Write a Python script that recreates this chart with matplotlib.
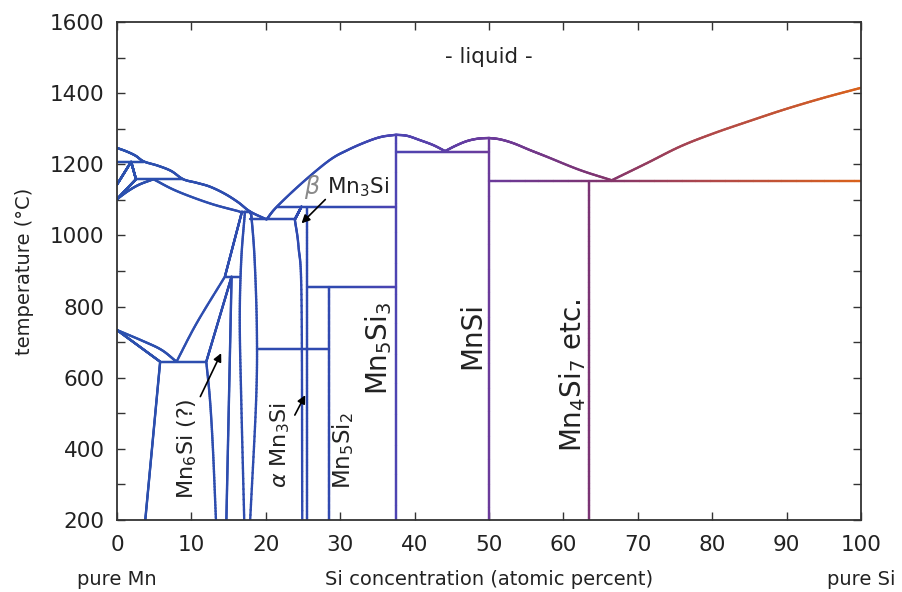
import matplotlib
matplotlib.use("Agg")
import matplotlib.pyplot as plt
import numpy as np
from matplotlib.collections import LineCollection
from matplotlib.colors import LinearSegmentedColormap
from matplotlib.ticker import MultipleLocator
from matplotlib.transforms import blended_transform_factory

# phase boundaries, (Si at.%, temperature degC)
mn_liquidus = [(0, 1246), (1.3, 1236), (2.5, 1224), (3.6, 1208), (5.5, 1196), (7.3, 1181),
               (8.9, 1158), (10.7, 1148), (12.5, 1137), (14.5, 1117), (16.3, 1093),
               (17.9, 1067), (20.1, 1045)]
mn5si3_liquidus_left = [(20.1, 1045), (21.5, 1081), (25, 1150), (28.6, 1212), (31, 1240),
                        (33.5, 1263), (35.5, 1277), (37.5, 1283)]
mn5si3_liquidus_right = [(37.5, 1283), (39, 1280), (40.7, 1268), (42.5, 1254), (44.1, 1237)]
mnsi_liquidus_left = [(44.1, 1237), (45.5, 1252), (47, 1265), (48.5, 1272), (50, 1274)]
mnsi_liquidus_right = [(50, 1274), (51.5, 1270), (53.3, 1259), (55.5, 1240), (57.8, 1221),
                       (62.2, 1184), (66.5, 1155)]
si_liquidus = [(66.5, 1155), (71.2, 1203), (75.7, 1250), (80.2, 1287), (85.5, 1325),
               (90, 1356), (95, 1387), (100, 1415)]

delta_gamma_a = [(0, 1143), (1.9, 1207)]
delta_gamma_b = [(1.9, 1207), (2.55, 1158)]
gamma_beta = [(2.55, 1158), (0, 1102)]
beta_mn_lower = [(0, 1102), (1.5, 1125), (3, 1143), (4.9, 1158)]
beta_mn_solidus = [(4.9, 1158), (8, 1125), (12.5, 1090), (16.5, 1067)]

alpha_beta_mn = [(0, 734), (3.5, 703), (6, 678), (8, 645)]
alpha_mn_solvus = [(0, 734), (5.8, 645)]
alpha_mn_low = [(5.8, 645), (3.8, 200)]
r_phase_beta = [(8, 645), (10.7, 753), (14.5, 884)]
r_phase_left_high = [(12.0, 645), (15.4, 884)]
r_phase_left_low = [(12.0, 645), (12.5, 537), (12.9, 397), (13.3, 200)]
r_phase_right = [(15.4, 884), (14.7, 200)]
nu_upper = [(14.5, 884), (16.8, 1067)]
nu_left = [(17.2, 1067), (16.7, 931), (16.5, 762), (16.7, 537), (17.1, 200)]
nu_right = [(17.9, 1067), (18.1, 1045), (18.5, 931), (18.8, 734), (18.7, 537), (17.9, 200)]

mn3si_beta_left = [(23.9, 1045), (24.4, 968), (24.8, 819), (24.9, 200)]
mn3si_step = [(23.9, 1045), (24.8, 1081)]
mn3si_right = [(25.5, 1081), (25.5, 200)]
mn5si2_line = [(28.5, 856), (28.5, 200)]
mn5si3_line = [(37.5, 1283), (37.5, 200)]
mnsi_line = [(50, 1274), (50, 200)]
mn4si7_line = [(63.5, 1153), (63.5, 200)]

isotherms = [
    [(0, 1207), (3.6, 1207)],
    [(2.55, 1158), (8.9, 1158)],
    [(16.5, 1067), (17.9, 1067)],
    [(17.9, 1045), (23.9, 1045)],
    [(21.5, 1081), (37.5, 1081)],
    [(14.5, 884), (16.4, 884)],
    [(25.5, 856), (37.5, 856)],
    [(18.8, 680), (28.5, 680)],
    [(5.8, 645), (12.0, 645)],
    [(37.5, 1235), (50, 1235)],
    [(50, 1153), (100, 1153)],
]

curves = [mn_liquidus, mn5si3_liquidus_left, mn5si3_liquidus_right, mnsi_liquidus_left,
          mnsi_liquidus_right, si_liquidus, delta_gamma_a, delta_gamma_b, gamma_beta,
          beta_mn_lower, beta_mn_solidus, alpha_beta_mn, alpha_mn_solvus, alpha_mn_low,
          r_phase_beta, r_phase_left_high, r_phase_left_low, r_phase_right, nu_upper,
          nu_left, nu_right, mn3si_beta_left, mn3si_step, mn3si_right, mn5si2_line,
          mn5si3_line, mnsi_line, mn4si7_line] + isotherms


def smooth(pts, n=24):
    p = np.asarray(pts, float)
    if len(p) == 2:
        t = np.linspace(0, 1, 200)[:, None]
        return p[0] + (p[1] - p[0]) * t
    # Catmull-Rom through the points
    ext = np.vstack([2 * p[0] - p[1], p, 2 * p[-1] - p[-2]])
    t = np.linspace(0, 1, n, endpoint=False)[:, None]
    out = []
    for i in range(1, len(ext) - 2):
        p0, p1, p2, p3 = ext[i - 1], ext[i], ext[i + 1], ext[i + 2]
        out.append(0.5 * (2 * p1 + (-p0 + p2) * t + (2 * p0 - 5 * p1 + 4 * p2 - p3) * t ** 2
                          + (-p0 + 3 * p1 - 3 * p2 + p3) * t ** 3))
    out.append(p[-1:])
    return np.vstack(out)


cmap = LinearSegmentedColormap.from_list("mnsi", [
    (0.0, "#2b50ae"), (0.30, "#3049b0"), (0.375, "#4d44b2"), (0.5, "#6b3b9c"),
    (0.635, "#7b3474"), (0.67, "#86366a"), (0.8, "#b0484a"), (1.0, "#d9621c")])

plt.rcParams["font.family"] = ["DejaVu Sans"]
ink = "#222222"

fig = plt.figure(figsize=(9.03, 5.92), dpi=100)
ax = fig.add_axes([117 / 903, 72 / 592, 744 / 903, 498 / 592])

segs, cols = [], []
for c in curves:
    d = smooth(c)
    s = np.stack([d[:-1], d[1:]], axis=1)
    segs.append(s)
    cols.append(cmap((s[:, 0, 0] + s[:, 1, 0]) / 200))
lc = LineCollection(np.concatenate(segs), colors=np.concatenate(cols), linewidths=1.7,
                    capstyle="round", joinstyle="round")
ax.add_collection(lc)

ax.set_xlim(0, 100)
ax.set_ylim(200, 1600)
ax.xaxis.set_major_locator(MultipleLocator(10))
ax.yaxis.set_major_locator(MultipleLocator(200))
ax.yaxis.set_minor_locator(MultipleLocator(100))
ax.tick_params(which="both", direction="in", top=True, right=True, length=6, width=1,
               color="#333333", labelsize=15.5, labelcolor=ink, pad=9)
ax.tick_params(axis="x", pad=11)
for sp in ax.spines.values():
    sp.set_linewidth(1.3)
    sp.set_color("#333333")

tr = blended_transform_factory(ax.transData, ax.transAxes)
ax.text(50, -0.12, "Si concentration (atomic percent)", transform=tr, ha="center",
        va="center", fontsize=14, color=ink)
ax.text(0, -0.12, "pure Mn", transform=tr, ha="center", va="center", fontsize=14, color=ink)
ax.text(100, -0.12, "pure Si", transform=tr, ha="center", va="center", fontsize=14, color=ink)
ax.text(-0.124, 0.5, "temperature (°C)", transform=ax.transAxes, rotation=90,
        ha="center", va="center", fontsize=14, color=ink)

# phase labels
ax.text(50, 1502, "- liquid -", ha="center", va="center", fontsize=15.5, color=ink)
ax.text(26.3, 1136, r"$\beta$", ha="center", va="center", fontsize=17, color="#8a8a8a")
ax.text(32.4, 1136, r"Mn$_3$Si", ha="center", va="center", fontsize=15.5, color=ink)
ax.text(22.0, 411, r"$\alpha$ Mn$_3$Si", ha="center", va="center", rotation=90,
        fontsize=16, color=ink)
ax.text(9.5, 400, r"Mn$_6$Si (?)", ha="center", va="center", rotation=90,
        fontsize=16, color=ink)
ax.text(30.4, 394, r"Mn$_5$Si$_2$", ha="center", va="center", rotation=90,
        fontsize=16.5, color=ink)
ax.text(35.1, 683, r"Mn$_5$Si$_3$", ha="center", va="center", rotation=90,
        fontsize=20, color=ink)
ax.text(47.7, 720, "MnSi", ha="center", va="center", rotation=90, fontsize=20, color=ink)
ax.text(61.2, 608, r"Mn$_4$Si$_7$ etc.", ha="center", va="center", rotation=90,
        fontsize=20, color=ink)

arrow = dict(arrowstyle="-|>", color="black", lw=1.2, mutation_scale=12, shrinkA=0, shrinkB=0)
ax.annotate("", xy=(24.8, 1034), xytext=(28.0, 1101), arrowprops=arrow)
ax.annotate("", xy=(25.3, 551), xytext=(23.9, 495), arrowprops=arrow)
ax.annotate("", xy=(14.0, 669), xytext=(11.2, 547), arrowprops=arrow)

fig.savefig("out.png", dpi=100)
